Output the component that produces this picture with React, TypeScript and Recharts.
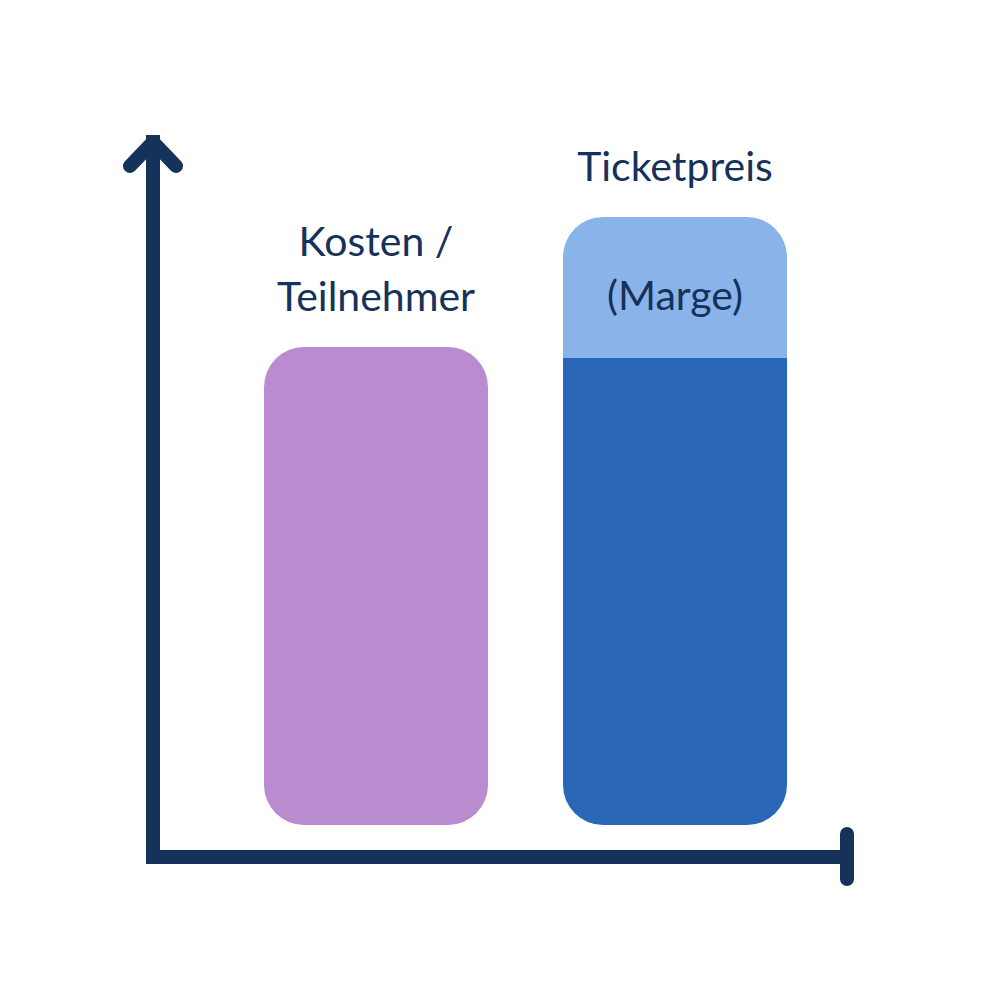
import { Bar, BarChart, LabelList, XAxis, YAxis } from 'recharts';

// Schematic: cost per participant vs. ticket price (with margin on top).
// No numbers on the axes, so values are relative heights.
const CATEGORIES = ['Kosten / Teilnehmer', 'Ticketpreis'];
const CATEGORY_LINES = [['Kosten /', 'Teilnehmer'], ['Ticketpreis']];
const KOSTEN = [47.8, 0];
const PREIS_BASIS = [0, 46.7];
const MARGE = [0, 14.1];
const MARGE_LABEL = '(Marge)';

const DATA = CATEGORIES.map((name, i) => ({
  name,
  kosten: KOSTEN[i],
  basis: PREIS_BASIS[i],
  marge: MARGE[i],
}));

const NAVY = '#14325a';
const PURPLE = '#ba8bcf';
const BLUE = '#2a68b7';
const LIGHT_BLUE = '#8ab3e9';
const FONT = 'Lato, sans-serif';
const FONT_SIZE = 41;
const LINE_GAP = 55;

const W = 1000;
const H = 1000;
const MARGIN = { top: 142, right: 153, bottom: 113, left: 93 };
const Y_AXIS_W = 60;
const X_AXIS_H = 30;
const AXIS_STROKE = 14;

const axisLine = { stroke: NAVY, strokeWidth: AXIS_STROKE, strokeLinecap: 'square' as const };

// category name above the top of each stack (value = category name)
function CategoryLabel(props: any) {
  const { x, y, width, height, value } = props;
  if (!height) return null;
  const lines = CATEGORY_LINES[CATEGORIES.indexOf(String(value))] ?? [];
  const cx = Number(x) + Number(width) / 2;
  return (
    <g>
      {lines.map((line, i) => (
        <text
          key={line}
          x={cx}
          y={Number(y) - 36 - (lines.length - 1 - i) * LINE_GAP}
          textAnchor="middle"
          fill={NAVY}
          fontFamily={FONT}
          fontSize={FONT_SIZE}
        >
          {line}
        </text>
      ))}
    </g>
  );
}

function MargeLabel(props: any) {
  const { x, y, width, height } = props;
  if (!height) return null;
  return (
    <text
      x={Number(x) + Number(width) / 2}
      y={Number(y) + Number(height) / 2 + 22}
      textAnchor="middle"
      fill={NAVY}
      fontFamily={FONT}
      fontSize={FONT_SIZE}
    >
      {MARGE_LABEL}
    </text>
  );
}

// arrow head on the y axis and end stop on the x axis
function AxisDecor() {
  const left = MARGIN.left + Y_AXIS_W;
  const top = MARGIN.top;
  const right = W - MARGIN.right;
  const bottom = H - MARGIN.bottom - X_AXIS_H;
  return (
    <g stroke={NAVY} strokeWidth={AXIS_STROKE} fill="none" strokeLinecap="round" strokeLinejoin="round">
      <path d={`M${left - 23},${top + 24} L${left},${top} L${left + 23},${top + 24}`} />
      <line x1={right} y1={bottom - 23} x2={right} y2={bottom + 22} />
    </g>
  );
}

export default function App() {
  return (
    <div style={{ width: W, height: H, background: '#fff' }}>
      <style>{'body{margin:0}'}</style>
      <BarChart width={W} height={H} data={DATA} margin={MARGIN}>
        <XAxis
          dataKey="name"
          height={X_AXIS_H}
          tick={false}
          tickLine={false}
          axisLine={axisLine}
          padding={{ left: 73, right: 23 }}
        />
        <YAxis
          type="number"
          domain={[-3.2, 68.3]}
          allowDataOverflow
          width={Y_AXIS_W}
          tick={false}
          tickLine={false}
          axisLine={axisLine}
        />
        <Bar dataKey="kosten" stackId="a" barSize={224} fill={PURPLE} radius={40} isAnimationActive={false}>
          <LabelList dataKey="name" content={CategoryLabel} />
        </Bar>
        <Bar dataKey="basis" stackId="a" barSize={224} fill={BLUE} radius={[0, 0, 40, 40]} isAnimationActive={false} />
        <Bar dataKey="marge" stackId="a" barSize={224} fill={LIGHT_BLUE} radius={[40, 40, 0, 0]} isAnimationActive={false}>
          <LabelList dataKey="name" content={CategoryLabel} />
          <LabelList dataKey="marge" content={MargeLabel} />
        </Bar>
        <AxisDecor />
      </BarChart>
    </div>
  );
}
